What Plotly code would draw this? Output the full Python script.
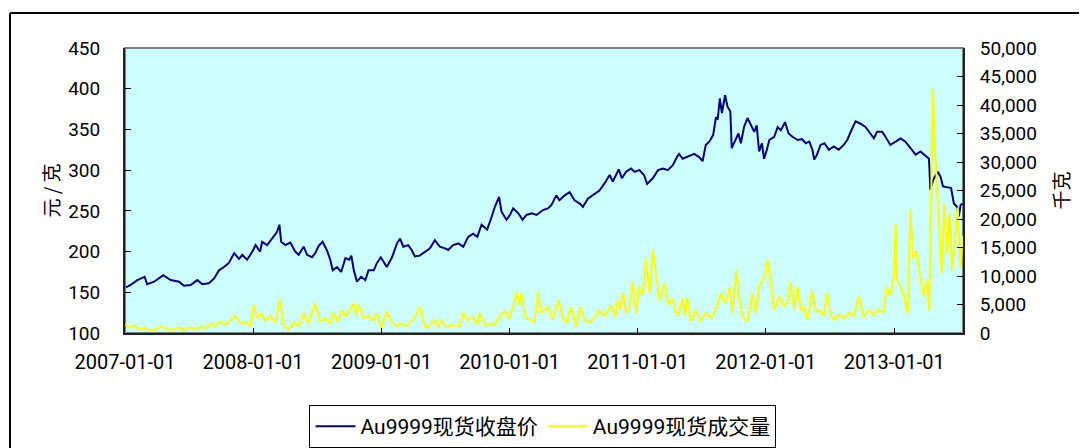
import plotly.graph_objects as go

price_dates = [
    "2007-01-04", "2007-01-17", "2007-02-05", "2007-02-26", "2007-03-05", "2007-03-25", "2007-04-20", "2007-05-02",
    "2007-05-11", "2007-06-04", "2007-06-18", "2007-07-07", "2007-07-26", "2007-08-09", "2007-08-28", "2007-09-12",
    "2007-09-26", "2007-10-10", "2007-10-24", "2007-11-08", "2007-11-22", "2007-12-01", "2007-12-15", "2007-12-30",
    "2008-01-08", "2008-01-21", "2008-01-27", "2008-02-10", "2008-02-29", "2008-03-09", "2008-03-16", "2008-03-21",
    "2008-04-02", "2008-04-16", "2008-04-30", "2008-05-10", "2008-05-24", "2008-06-03", "2008-06-17", "2008-06-26",
    "2008-07-06", "2008-07-17", "2008-07-29", "2008-08-08", "2008-08-15", "2008-08-27", "2008-09-08", "2008-09-20",
    "2008-10-01", "2008-10-07", "2008-10-14", "2008-10-23", "2008-11-04", "2008-11-16", "2008-11-25", "2008-12-10",
    "2008-12-19", "2008-12-30", "2009-01-16", "2009-01-31", "2009-02-14", "2009-02-23", "2009-03-04", "2009-03-18",
    "2009-03-28", "2009-04-06", "2009-04-20", "2009-05-05", "2009-05-19", "2009-06-02", "2009-06-16", "2009-07-01",
    "2009-07-10", "2009-07-24", "2009-08-08", "2009-08-22", "2009-09-05", "2009-09-19", "2009-10-01", "2009-10-13",
    "2009-10-29", "2009-11-11", "2009-11-20", "2009-12-02", "2009-12-09", "2009-12-23", "2010-01-02", "2010-01-11",
    "2010-01-26", "2010-02-07", "2010-02-18", "2010-03-05", "2010-03-19", "2010-04-06", "2010-04-20", "2010-04-30",
    "2010-05-14", "2010-05-23", "2010-06-07", "2010-06-21", "2010-07-05", "2010-07-20", "2010-07-29", "2010-08-12",
    "2010-08-31", "2010-09-14", "2010-09-29", "2010-10-13", "2010-10-22", "2010-11-08", "2010-11-17", "2010-11-29",
    "2010-12-13", "2010-12-23", "2011-01-06", "2011-01-19", "2011-01-28", "2011-02-13", "2011-02-28", "2011-03-14",
    "2011-03-28", "2011-04-11", "2011-04-24", "2011-04-29", "2011-05-09", "2011-05-28", "2011-06-11", "2011-06-25",
    "2011-07-05", "2011-07-14", "2011-07-24", "2011-08-04", "2011-08-12", "2011-08-17", "2011-08-23", "2011-08-29",
    "2011-09-07", "2011-09-14", "2011-09-22", "2011-09-26", "2011-10-06", "2011-10-15", "2011-10-22", "2011-10-31",
    "2011-11-10", "2011-11-19", "2011-11-29", "2011-12-06", "2011-12-13", "2011-12-21", "2011-12-27", "2012-01-04",
    "2012-01-11", "2012-01-25", "2012-02-04", "2012-02-13", "2012-02-25", "2012-03-06", "2012-03-17", "2012-04-01",
    "2012-04-13", "2012-04-24", "2012-05-04", "2012-05-13", "2012-05-18", "2012-05-26", "2012-06-05", "2012-06-16",
    "2012-06-29", "2012-07-13", "2012-07-27", "2012-08-10", "2012-08-20", "2012-09-03", "2012-09-13", "2012-09-27",
    "2012-10-11", "2012-10-25", "2012-11-04", "2012-11-13", "2012-11-28", "2012-12-07", "2012-12-21", "2013-01-05",
    "2013-01-19", "2013-02-02", "2013-02-16", "2013-03-03", "2013-03-17", "2013-03-31", "2013-04-10", "2013-04-14",
    "2013-04-22", "2013-05-05", "2013-05-13", "2013-05-20", "2013-06-01", "2013-06-12", "2013-06-20", "2013-06-29",
    "2013-07-04", "2013-07-09", "2013-07-15",
]
price_values = [
    156, 159, 165, 169, 160, 163, 171, 167,
    165, 163, 158, 159, 165, 160, 161, 167,
    177, 181, 186, 198, 191, 196, 190, 200,
    208, 200, 212, 208, 218, 224, 233, 212,
    208, 211, 200, 196, 206, 196, 193, 198,
    207, 212, 202, 190, 177, 181, 175, 192,
    190, 195, 177, 163, 169, 165, 177, 177,
    186, 193, 181, 193, 210, 216, 206, 208,
    202, 194, 195, 200, 204, 214, 206, 204,
    202, 208, 210, 206, 218, 222, 218, 233,
    227, 243, 255, 267, 249, 239, 245, 253,
    247, 239, 245, 247, 245, 251, 253, 257,
    269, 263, 269, 273, 263, 259, 255, 265,
    271, 275, 284, 294, 286, 301, 290, 298,
    302, 298, 300, 294, 283, 290, 300, 302,
    300, 306, 317, 320, 314, 318, 320, 316,
    311, 331, 335, 343, 365, 362, 388, 370,
    392, 378, 372, 327, 337, 345, 333, 353,
    364, 355, 347, 355, 323, 333, 314, 325,
    337, 341, 353, 349, 359, 345, 341, 337,
    338, 333, 335, 325, 313, 319, 331, 333,
    325, 329, 325, 331, 337, 351, 360, 357,
    353, 345, 339, 347, 347, 341, 331, 335,
    339, 335, 327, 319, 323, 317, 314, 276,
    288, 298, 292, 280, 279, 278, 259, 255,
    243, 257, 259,
]

volume_dates = [
    "2007-01-02", "2007-01-12", "2007-01-27", "2007-02-10", "2007-02-24", "2007-03-15", "2007-04-03", "2007-04-17",
    "2007-05-02", "2007-05-21", "2007-06-04", "2007-06-18", "2007-07-02", "2007-07-21", "2007-08-05", "2007-08-19",
    "2007-09-02", "2007-09-16", "2007-10-01", "2007-10-15", "2007-10-29", "2007-11-12", "2007-11-27", "2007-12-11",
    "2007-12-25", "2008-01-03", "2008-01-13", "2008-01-24", "2008-02-05", "2008-02-19", "2008-03-04", "2008-03-18",
    "2008-03-28", "2008-04-11", "2008-04-26", "2008-05-10", "2008-05-24", "2008-06-07", "2008-06-26", "2008-07-10",
    "2008-07-25", "2008-08-08", "2008-08-18", "2008-08-30", "2008-09-10", "2008-09-24", "2008-10-04", "2008-10-14",
    "2008-10-20", "2008-10-28", "2008-11-11", "2008-11-25", "2008-12-10", "2008-12-19", "2008-12-31", "2009-01-16",
    "2009-01-31", "2009-02-14", "2009-02-26", "2009-03-14", "2009-04-01", "2009-04-22", "2009-05-05", "2009-05-19",
    "2009-06-02", "2009-06-12", "2009-06-21", "2009-07-06", "2009-07-24", "2009-08-12", "2009-08-22", "2009-09-05",
    "2009-09-19", "2009-10-01", "2009-10-08", "2009-10-23", "2009-11-06", "2009-11-20", "2009-12-04", "2009-12-19",
    "2009-12-31", "2010-01-11", "2010-01-21", "2010-01-28", "2010-02-04", "2010-02-14", "2010-02-28", "2010-03-14",
    "2010-03-23", "2010-04-01", "2010-04-20", "2010-05-04", "2010-05-21", "2010-06-02", "2010-06-14", "2010-06-26",
    "2010-07-10", "2010-07-22", "2010-08-03", "2010-08-17", "2010-08-31", "2010-09-14", "2010-09-29", "2010-10-18",
    "2010-10-29", "2010-11-06", "2010-11-13", "2010-11-20", "2010-11-29", "2010-12-09", "2010-12-18", "2010-12-28",
    "2011-01-06", "2011-01-16", "2011-01-25", "2011-02-04", "2011-02-13", "2011-02-23", "2011-03-04", "2011-03-19",
    "2011-03-30", "2011-04-11", "2011-04-21", "2011-04-27", "2011-05-09", "2011-05-16", "2011-05-23", "2011-06-01",
    "2011-06-16", "2011-06-30", "2011-07-14", "2011-07-29", "2011-08-12", "2011-08-26", "2011-09-07", "2011-09-21",
    "2011-09-28", "2011-10-10", "2011-10-17", "2011-10-27", "2011-11-10", "2011-11-24", "2011-12-04", "2011-12-13",
    "2011-12-23", "2011-12-30", "2012-01-06", "2012-01-15", "2012-01-25", "2012-02-08", "2012-02-22", "2012-03-03",
    "2012-03-12", "2012-03-22", "2012-04-01", "2012-04-10", "2012-04-19", "2012-04-29", "2012-05-13", "2012-05-21",
    "2012-05-31", "2012-06-14", "2012-06-24", "2012-07-03", "2012-07-13", "2012-07-27", "2012-08-10", "2012-08-25",
    "2012-09-08", "2012-09-22", "2012-10-06", "2012-10-20", "2012-11-04", "2012-11-18", "2012-12-02", "2012-12-10",
    "2012-12-21", "2012-12-31", "2013-01-05", "2013-01-09", "2013-01-19", "2013-01-28", "2013-02-09", "2013-02-16",
    "2013-02-24", "2013-03-06", "2013-03-15", "2013-03-26", "2013-04-05", "2013-04-11", "2013-04-16", "2013-04-21",
    "2013-04-27", "2013-05-03", "2013-05-11", "2013-05-17", "2013-05-24", "2013-06-01", "2013-06-08", "2013-06-15",
    "2013-06-25", "2013-07-01", "2013-07-09", "2013-07-15",
]
volume_values = [
    1600, 1000, 1300, 700, 800, 500, 700, 1200,
    600, 600, 1000, 500, 900, 700, 1100, 800,
    1600, 1200, 2000, 1400, 2300, 3000, 1600, 1900,
    1200, 4900, 2600, 3400, 2200, 2900, 1800, 5800,
    1400, 600, 1800, 1200, 3500, 1600, 5200, 2000,
    2600, 1600, 3500, 2000, 3800, 3000, 4200, 5200,
    3200, 5000, 2600, 3000, 2200, 3500, 800, 3800,
    1800, 1200, 1600, 1200, 2300, 4600, 1000, 1300,
    2300, 900, 2200, 1000, 1400, 1200, 3500, 2200,
    2800, 1500, 3500, 1400, 1600, 1400, 2900, 3800,
    2500, 4600, 7200, 5000, 7000, 2900, 2300, 2000,
    7200, 3500, 4600, 2300, 5800, 2600, 1800, 4600,
    1100, 4600, 2300, 1800, 2600, 4000, 3000, 4900,
    2800, 5800, 4000, 7200, 3500, 4500, 9000, 3500,
    8100, 6500, 13100, 7000, 14600, 9900, 5800, 8700,
    5000, 6000, 3500, 3000, 6100, 3200, 6100, 2000,
    4000, 2000, 3500, 2600, 4000, 7000, 5200, 8100,
    3500, 11000, 6400, 2900, 2000, 7000, 3500, 8100,
    9300, 10000, 12800, 9300, 4000, 6400, 4600, 5500,
    9000, 4000, 8100, 4000, 4600, 2300, 7500, 4000,
    4000, 3000, 7000, 3500, 2300, 3200, 2600, 3500,
    3000, 6400, 2800, 4000, 3200, 4200, 3500, 8100,
    6500, 9900, 19200, 9300, 8100, 6800, 3500, 21600,
    13000, 14500, 10500, 6400, 9300, 4000, 21600, 42900,
    32700, 25700, 16300, 10500, 22500, 14000, 21000, 11000,
    17500, 22000, 11600, 17000,
]

year_ticks = ["2007-01-01", "2008-01-01", "2009-01-01", "2010-01-01",
              "2011-01-01", "2012-01-01", "2013-01-01"]
left_ticks = [100, 150, 200, 250, 300, 350, 400, 450]
right_ticks = [0, 5000, 10000, 15000, 20000, 25000, 30000, 35000, 40000, 45000, 50000]

FONT = "Roboto, Noto Sans CJK SC, sans-serif"
CJK = "Noto Sans CJK SC, sans-serif"

fig = go.Figure()
fig.add_trace(go.Scatter(
    x=price_dates, y=price_values, name="Au9999现货收盘价", mode="lines",
    line=dict(color="#000080", width=2),
))
fig.add_trace(go.Scatter(
    x=volume_dates, y=volume_values, name="Au9999现货成交量", mode="lines",
    line=dict(color="#FFFF00", width=2), yaxis="y2",
))

fig.update_layout(
    width=1079, height=440, autosize=False,
    margin=dict(l=117, r=124, t=40, b=115),
    paper_bgcolor="white", plot_bgcolor="#CCFFFF",
    font=dict(family=FONT, size=20, color="#000000"),
    showlegend=True,
    legend=dict(
        orientation="h", xref="paper", x=0.4988, xanchor="center",
        yref="container", y=0.0977, yanchor="top",
        bordercolor="#000000", borderwidth=1, bgcolor="white",
        font=dict(family=FONT, size=21, color="#000000"),
        itemwidth=40,
    ),
    xaxis=dict(
        type="date", range=["2007-01-01", "2013-07-16"],
        tickvals=year_ticks, ticktext=year_ticks,
        ticks="inside", ticklen=5, tickwidth=1, tickcolor="#000000",
        showline=True, linecolor="#222222", linewidth=2,
        showgrid=False, zeroline=False,
        tickfont=dict(family=FONT, size=20),
        ticklabelstandoff=10,
    ),
    yaxis=dict(
        range=[100, 450], tickvals=left_ticks,
        ticks="inside", ticklen=6, tickwidth=1, tickcolor="#000000",
        showline=True, linecolor="#222222", linewidth=2,
        showgrid=False, zeroline=False,
        tickfont=dict(family=FONT, size=19),
        ticklabelstandoff=19,
        title=dict(text="元 / 克", font=dict(family=CJK, size=19), standoff=4),
    ),
    yaxis2=dict(
        overlaying="y", side="right", range=[0, 50000], tickvals=right_ticks,
        tickformat=",d",
        ticks="inside", ticklen=6, tickwidth=1, tickcolor="#000000",
        showline=True, linecolor="#222222", linewidth=2,
        showgrid=False, zeroline=False,
        tickfont=dict(family=FONT, size=19),
        ticklabelstandoff=11,
        title=dict(text="千克", font=dict(family=CJK, size=19), standoff=20),
    ),
    shapes=[
        dict(type="rect", xref="paper", yref="paper", x0=0, x1=1, y0=0, y1=1,
             line=dict(color="#808080", width=2), layer="below"),
        dict(type="line", xref="paper", yref="paper", x0=-0.1372, x1=1.15, y0=1.1228, y1=1.1228,
             line=dict(color="#000000", width=2)),
        dict(type="line", xref="paper", yref="paper", x0=-0.1372, x1=-0.1372, y0=1.1228, y1=-0.41,
             line=dict(color="#000000", width=2)),
    ],
)

fig.write_html("out.html")
